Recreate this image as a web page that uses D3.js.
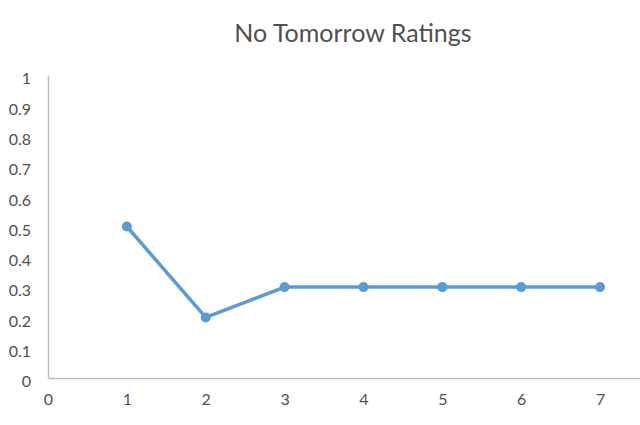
<!DOCTYPE html>
<html><head><meta charset="utf-8">
<script src="https://cdn.jsdelivr.net/npm/d3@7"></script>
<style>body{margin:0;background:#fff}svg{display:block}</style>
</head><body>
<script>
const episodes = [1, 2, 3, 4, 5, 6, 7];
const ratings = [0.5, 0.2, 0.3, 0.3, 0.3, 0.3, 0.3];
const xTicks = [0, 1, 2, 3, 4, 5, 6, 7];
const yTicks = [0, 0.1, 0.2, 0.3, 0.4, 0.5, 0.6, 0.7, 0.8, 0.9, 1];
const title = "No Tomorrow Ratings";

const W = 640, H = 425;
const svg = d3.select("body").append("svg").attr("width", W).attr("height", H);
const font = "Lato, 'Open Sans', sans-serif";
const x = d3.scaleLinear().domain([0, 7.507]).range([48, 640]);
const y = d3.scaleLinear().domain([0, 1]).range([378, 75]);

svg.append("text").attr("x", 353).attr("y", 42).attr("text-anchor", "middle")
  .attr("font-family", font).attr("font-size", 25).attr("fill", "#505050").text(title);

const yAxis = svg.append("g").attr("transform", `translate(${x(0)},0)`)
  .call(d3.axisLeft(y).tickValues(yTicks).tickSize(0).tickPadding(17).tickFormat(d => String(+d.toFixed(1))));
yAxis.select(".domain").attr("stroke", "#BFBFBF").attr("stroke-width", 1.5);
yAxis.selectAll("text").attr("font-family", font).attr("font-size", 16).attr("fill", "#505050").attr("dy", "0.55em");

const xAxis = svg.append("g").attr("transform", `translate(0,${y(0)})`)
  .call(d3.axisBottom(x).tickValues(xTicks).tickSize(0).tickPadding(16).tickFormat(d3.format("d")));
xAxis.select(".domain").attr("stroke", "#BFBFBF").attr("stroke-width", 1.5);
xAxis.selectAll("text").attr("font-family", font).attr("font-size", 16).attr("fill", "#505050");

const data = episodes.map((e, i) => ({e, r: ratings[i]}));
svg.append("path").datum(data)
  .attr("fill", "none").attr("stroke", "#5B9BD5").attr("stroke-width", 3.5)
  .attr("stroke-linejoin", "round")
  .attr("d", d3.line().x(d => x(d.e)).y(d => y(d.r)));
svg.selectAll("circle.pt").data(data).enter().append("circle").attr("class", "pt")
  .attr("cx", d => x(d.e)).attr("cy", d => y(d.r)).attr("r", 5).attr("fill", "#5B9BD5");
</script>
</body></html>
